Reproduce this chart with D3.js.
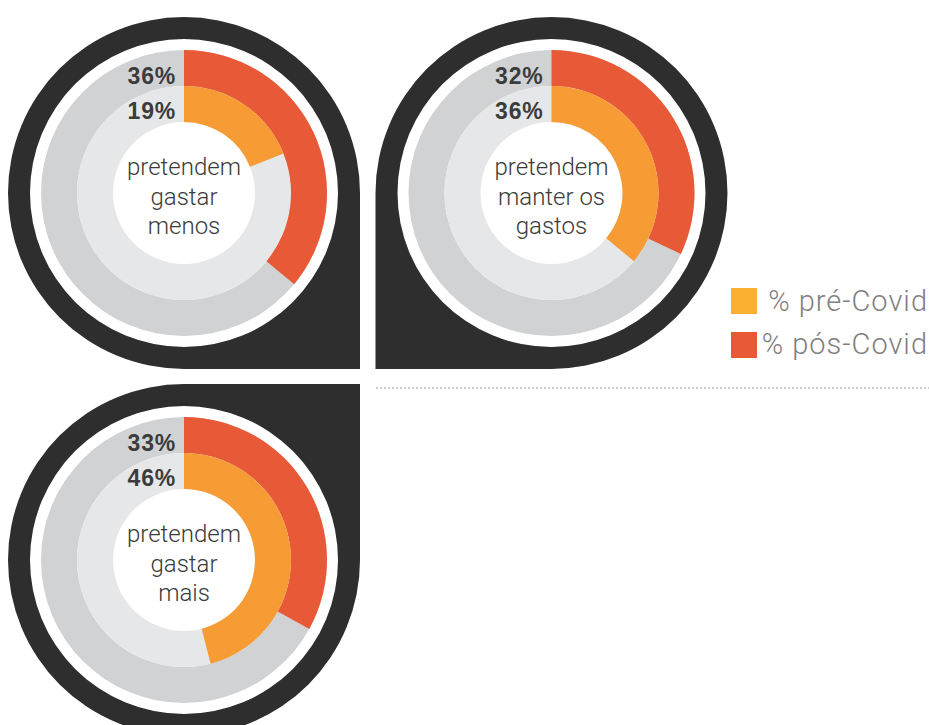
<!DOCTYPE html>
<html>
<head>
<meta charset="utf-8">
<script src="https://cdn.jsdelivr.net/npm/d3@7"></script>
<style>
  body { margin: 0; background: #fff; }
  svg { display: block; }
</style>
</head>
<body>
<div id="chart"></div>
<script>
// valores
var grupos = [["pretendem", "gastar", "menos"], ["pretendem", "manter os", "gastos"], ["pretendem", "gastar", "mais"]];
var preCovid = [19, 36, 46];
var posCovid = [36, 32, 33];
var series = ["% pré-Covid", "% pós-Covid"];

var w = 929, h = 725;
var cols = {pre: "#f79c34", pos: "#e85a37", legPre: "#fbb034", outer: "#d1d2d4", inner: "#e6e7e8", dark: "#2e2e2e"};

// centro de cada rosca e canto "quadrado" da moldura preta
var layout = [
  {cx: 184, cy: 193, corner: "br"},
  {cx: 551.5, cy: 193, corner: "bl"},
  {cx: 184, cy: 560, corner: "tr"}
];

var R = 176, rHole = 154, rOut = 143, rMid = 107, rIn = 71;

var svg = d3.select("#chart").append("svg")
  .attr("width", w)
  .attr("height", h);

var pct = d3.scaleLinear().domain([0, 100]).range([0, 2 * Math.PI]);

var frame = function (cx, cy, corner) {
  var p = d3.path();
  // quadrantes no sentido horário a partir do topo
  var quads = [
    {id: "tr", a0: -Math.PI / 2, a1: 0, sx: 1, sy: -1},
    {id: "br", a0: 0, a1: Math.PI / 2, sx: 1, sy: 1},
    {id: "bl", a0: Math.PI / 2, a1: Math.PI, sx: -1, sy: 1},
    {id: "tl", a0: Math.PI, a1: 3 * Math.PI / 2, sx: -1, sy: -1}
  ];
  p.moveTo(cx, cy - R);
  quads.forEach(function (q) {
    if (q.id == corner) {
      p.lineTo(cx + q.sx * R, cy + q.sy * R);
      p.lineTo(cx + R * Math.cos(q.a1), cy + R * Math.sin(q.a1));
    } else {
      p.arc(cx, cy, R, q.a0, q.a1, false);
    }
  });
  p.closePath();
  p.moveTo(cx + rHole, cy);
  p.arc(cx, cy, rHole, 0, 2 * Math.PI, false);
  p.closePath();
  return p.toString();
};

var arcOuter = d3.arc().innerRadius(rMid).outerRadius(rOut);
var arcInner = d3.arc().innerRadius(rIn).outerRadius(rMid);

layout.forEach(function (d, i) {
  svg.append("path")
    .attr("d", frame(d.cx, d.cy, d.corner))
    .attr("fill", cols.dark)
    .attr("fill-rule", "evenodd");

  var g = svg.append("g").attr("transform", "translate(" + d.cx + "," + d.cy + ")");

  g.append("path").attr("d", arcOuter({startAngle: 0, endAngle: 2 * Math.PI})).attr("fill", cols.outer);
  g.append("path").attr("d", arcInner({startAngle: 0, endAngle: 2 * Math.PI})).attr("fill", cols.inner);
  g.append("path").attr("d", arcOuter({startAngle: 0, endAngle: pct(posCovid[i])})).attr("fill", cols.pos);
  g.append("path").attr("d", arcInner({startAngle: 0, endAngle: pct(preCovid[i])})).attr("fill", cols.pre);

  [posCovid[i], preCovid[i]].forEach(function (v, k) {
    g.append("text")
      .text(v + "%")
      .attr("x", -8).attr("y", -109 + k * 35)
      .attr("text-anchor", "end")
      .attr("font-family", "Liberation Sans, Arial, sans-serif")
      .attr("font-weight", "bold")
      .attr("font-size", "23px")
      .attr("letter-spacing", "0.8px")
      .attr("fill", "#3c3c3c");
  });

  g.selectAll("text.lbl")
    .data(grupos[i])
    .enter()
    .append("text")
    .attr("class", "lbl")
    .text(function (t) { return t; })
    .attr("x", 0)
    .attr("y", function (t, j) { return -18 + j * 29.5; })
    .attr("text-anchor", "middle")
    .attr("font-family", "Roboto, sans-serif")
    .attr("font-weight", 300)
    .attr("font-size", "24px")
    .attr("fill", "#3a3a3a");
});

// legenda
var leg = svg.append("g");
var legCols = [cols.legPre, cols.pos];
leg.selectAll("rect")
  .data(series)
  .enter()
  .append("rect")
  .attr("x", 731)
  .attr("y", function (d, i) { return 288 + i * 44; })
  .attr("width", 26)
  .attr("height", 26)
  .attr("fill", function (d, i) { return legCols[i]; });

leg.selectAll("text")
  .data(series)
  .enter()
  .append("text")
  .text(function (d) { return d; })
  .attr("x", 928)
  .attr("y", function (d, i) { return 311 + i * 43; })
  .attr("text-anchor", "end")
  .attr("font-family", "Roboto, sans-serif")
  .attr("font-weight", 300)
  .attr("font-size", "29px")
  .attr("letter-spacing", "1px")
  .attr("fill", "#7f7f7f");

svg.append("line")
  .attr("x1", 376).attr("x2", 929)
  .attr("y1", 388).attr("y2", 388)
  .attr("stroke", "#cfcfcf")
  .attr("stroke-width", 2)
  .attr("stroke-dasharray", "2,2");
</script>
</body>
</html>
